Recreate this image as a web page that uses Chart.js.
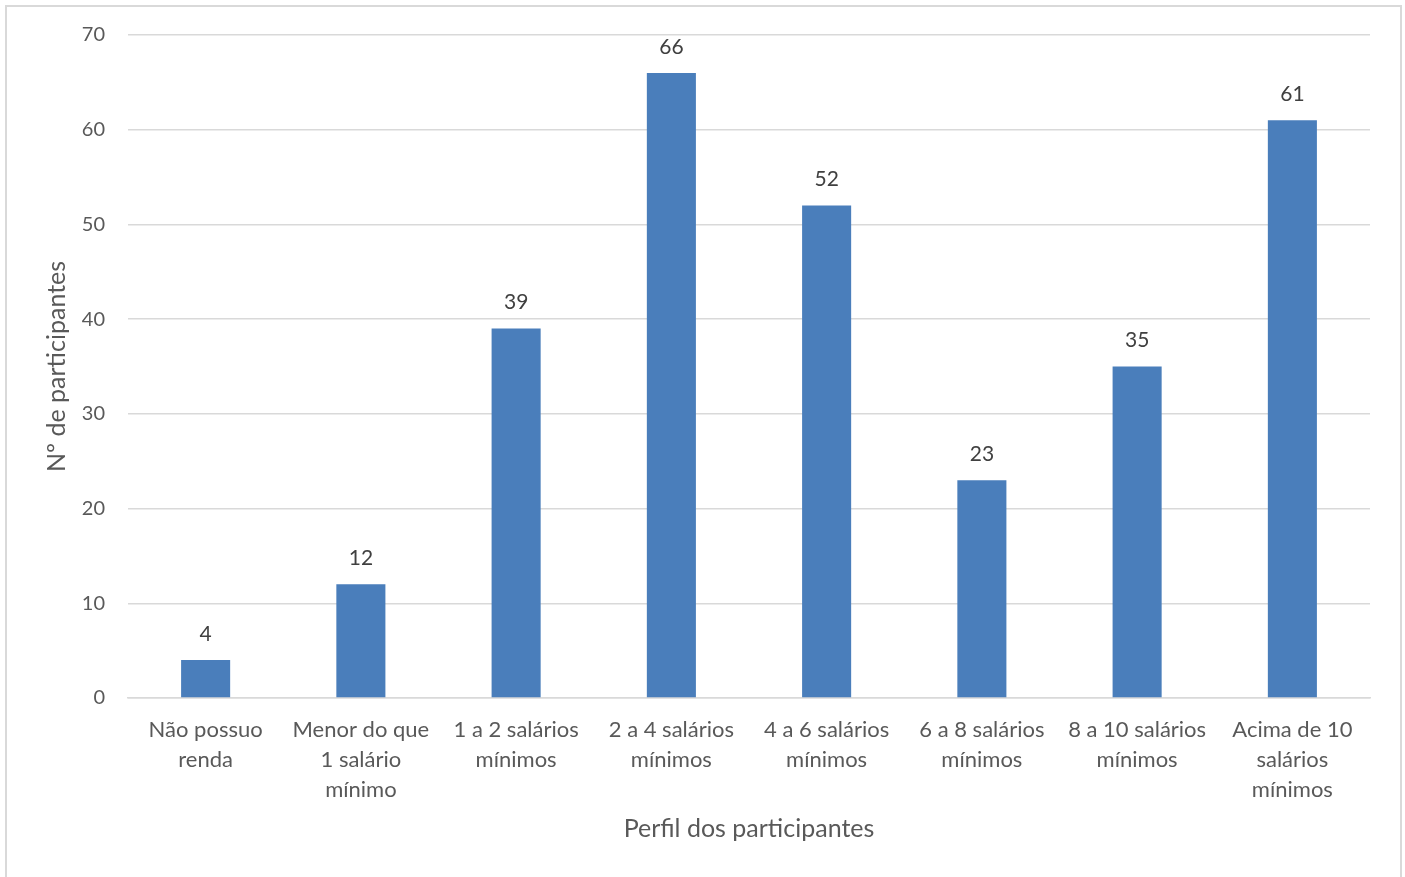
<!DOCTYPE html>
<html>
<head>
<meta charset="utf-8">
<script src="https://cdn.jsdelivr.net/npm/chart.js@4.4.1/dist/chart.umd.min.js"></script>
<style>
  html, body { margin: 0; padding: 0; background: #ffffff; overflow: hidden; }
  #frame { position: absolute; left: 5px; top: 5px; width: 1397px; height: 900px; border: 2px solid #d9d9d9; box-sizing: border-box; }
  #wrap { position: absolute; left: 0; top: 0; width: 1405px; height: 877px; }
</style>
</head>
<body>
<div id="frame"></div>
<div id="wrap"><canvas id="chart"></canvas></div>
<script>
// Renda dos participantes
const categories = [
  ['Não possuo', 'renda'],
  ['Menor do que', '1 salário', 'mínimo'],
  ['1 a 2 salários', 'mínimos'],
  ['2 a 4 salários', 'mínimos'],
  ['4 a 6 salários', 'mínimos'],
  ['6 a 8 salários', 'mínimos'],
  ['8 a 10 salários', 'mínimos'],
  ['Acima de 10', 'salários', 'mínimos']
];
const participantes = [4, 12, 39, 66, 52, 23, 35, 61];

const FONT = 'Lato, "Open Sans", sans-serif';
const TEXT = '#595959';
const GRID = '#d9d9d9';

// Value printed above each bar
const barLabels = {
  id: 'barLabels',
  afterDatasetsDraw(chart) {
    const ctx = chart.ctx;
    const meta = chart.getDatasetMeta(0);
    const data = chart.data.datasets[0].data;
    ctx.save();
    ctx.font = '21px ' + FONT;
    ctx.fillStyle = '#404040';
    ctx.textAlign = 'center';
    ctx.textBaseline = 'middle';
    meta.data.forEach((bar, i) => {
      ctx.fillText(String(data[i]), bar.x, bar.y - 26);
    });
    ctx.restore();
  }
};

new Chart(document.getElementById('chart'), {
  type: 'bar',
  data: {
    labels: categories,
    datasets: [{
      data: participantes,
      backgroundColor: '#4a7ebb',
      borderWidth: 0,
      categoryPercentage: 1,
      barPercentage: 0.316
    }]
  },
  options: {
    responsive: true,
    maintainAspectRatio: false,
    animation: false,
    layout: { padding: { left: 0, top: 35, right: 35, bottom: 0 } },
    plugins: { legend: { display: false }, tooltip: { enabled: false } },
    scales: {
      x: {
        afterFit(scale) { scale.height = 179; },
        grid: { display: false, drawTicks: false },
        border: { display: true, color: GRID, width: 1.5 },
        ticks: {
          color: TEXT,
          font: { family: FONT, size: 22, lineHeight: 1.364 },
          padding: 17,
          maxRotation: 0,
          autoSkip: false
        },
        title: {
          display: true,
          text: 'Perfil dos participantes',
          color: TEXT,
          font: { family: FONT, size: 25 },
          padding: { top: 0, bottom: 33 }
        }
      },
      y: {
        min: 0,
        max: 70,
        afterFit(scale) { scale.width = 128; },
        grid: { color: GRID, lineWidth: 1.5, drawTicks: false },
        border: { display: false },
        ticks: {
          stepSize: 10,
          color: TEXT,
          font: { family: FONT, size: 20 },
          padding: 23
        },
        title: {
          display: true,
          text: 'Nº de participantes',
          color: TEXT,
          font: { family: FONT, size: 25 },
          padding: { top: 42, bottom: 0 }
        }
      }
    }
  },
  plugins: [barLabels]
});
</script>
</body>
</html>
